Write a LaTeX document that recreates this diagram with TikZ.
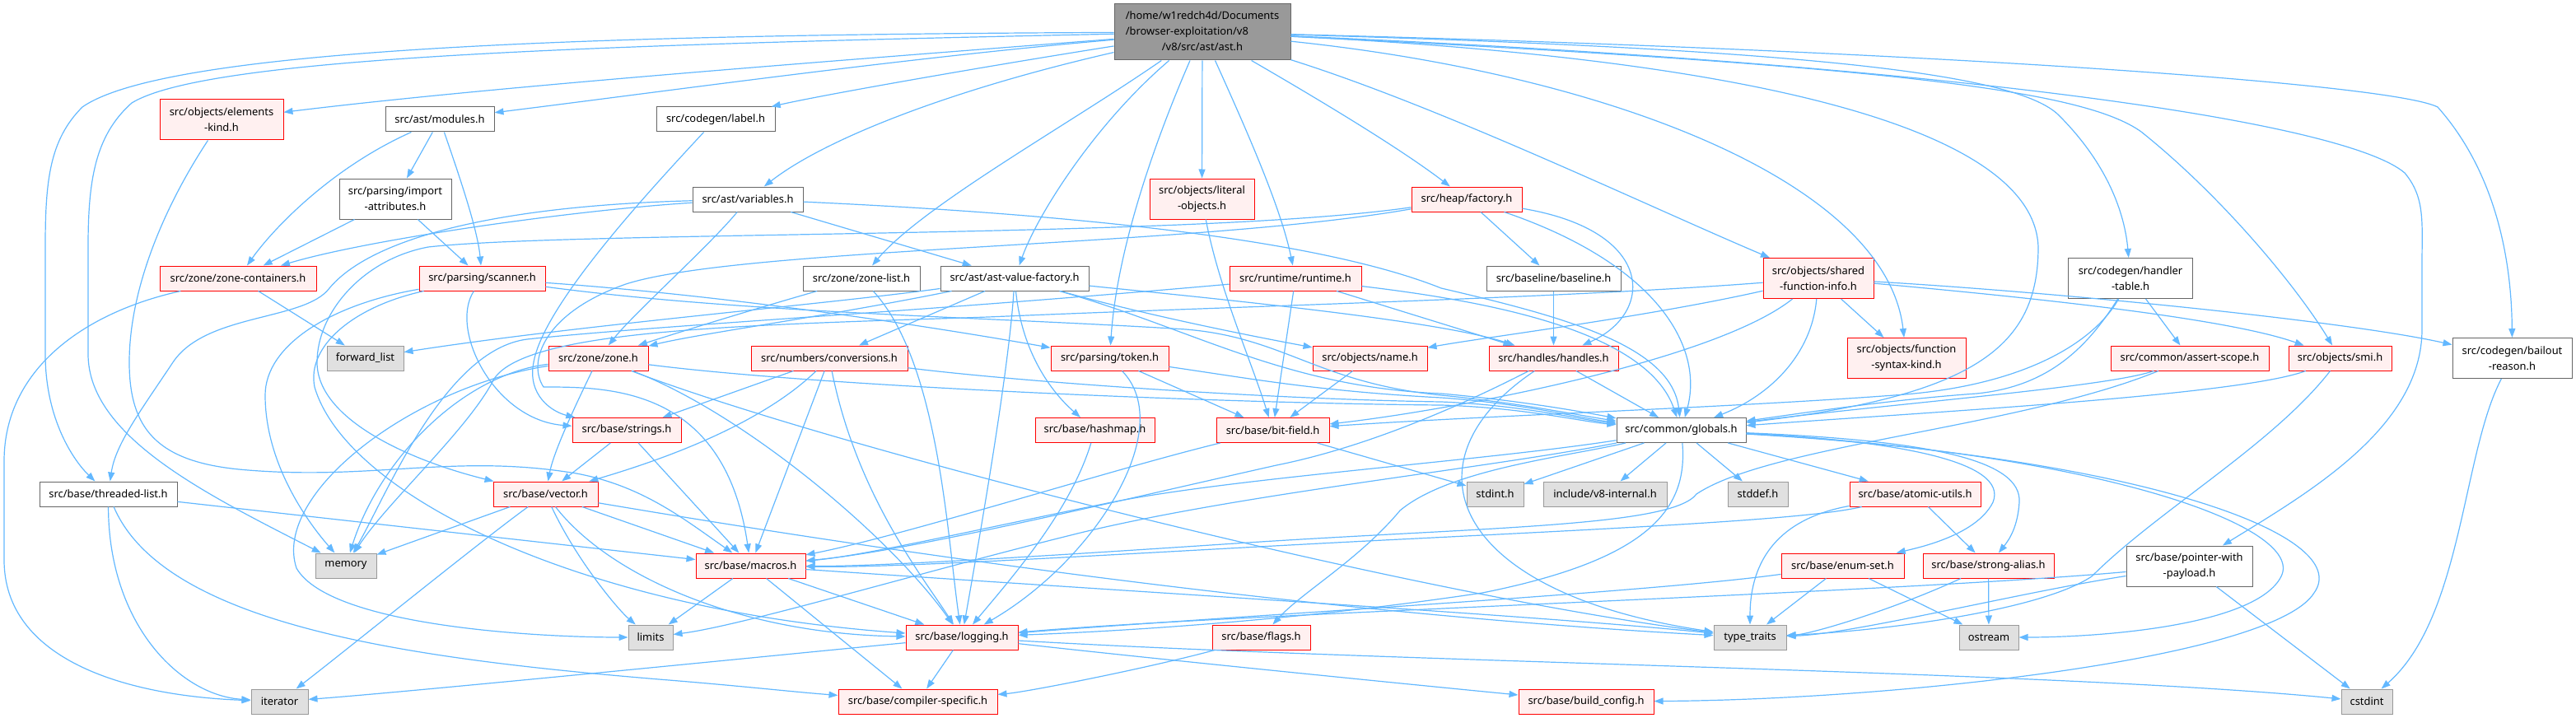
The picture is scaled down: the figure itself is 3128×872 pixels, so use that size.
\documentclass[tikz,border=0pt]{standalone}
\usepackage{fontspec}
\setmainfont{Noto Sans}
\usetikzlibrary{arrows.meta}
\definecolor{edgec}{HTML}{63B8FF}
\definecolor{redfill}{HTML}{FFF0F0}
\definecolor{redline}{HTML}{FF0000}
\definecolor{greyfill}{HTML}{E0E0E0}
\definecolor{greyline}{HTML}{999999}
\definecolor{darkline}{HTML}{666666}
\definecolor{rootfill}{HTML}{999999}
\begin{document}
\begin{tikzpicture}[x=0.5pt,y=-0.5pt,
  nbase/.style={rectangle, line width=0.5pt, inner xsep=3pt, inner ysep=1.5pt,
    font=\fontsize{6.45pt}{9.5pt}\selectfont, align=center, minimum height=15pt, text=black},
  rnode/.style={nbase, draw=redline, fill=redfill},
  wnode/.style={nbase, draw=darkline, fill=white},
  gnode/.style={nbase, draw=greyline, fill=greyfill},
  rootn/.style={nbase, draw=darkline, fill=rootfill},
  two/.style={minimum height=24.5pt},
  lnk/.style={draw=edgec, line width=0.6pt, -{Triangle[length=5.5pt,width=4pt]}}]
\useasboundingbox (0,0) rectangle (3128,872);
% nodes
\node[rootn, minimum width=107pt, minimum height=34pt] (root) at (1460,39)
  {\begin{tabular}{@{}l@{}}/home/w1redch4d/Documents\\/browser-exploitation/v8\\\multicolumn{1}{@{}c@{}}{/v8/src/ast/ast.h}\end{tabular}};
\node[rnode, two, minimum width=75pt] (elemkind) at (269,145.5) {src/objects/elements\\-kind.h};
\node[wnode, minimum width=66pt] (modules) at (534,145) {src/ast/modules.h};
\node[wnode, minimum width=72pt] (label) at (869,145) {src/codegen/label.h};
\node[wnode, two, minimum width=68pt] (importattr) at (480,241.5) {src/parsing/import\\-attributes.h};
\node[wnode, minimum width=67pt] (variables) at (908,242) {src/ast/variables.h};
\node[rnode, two, minimum width=63.5pt] (literal) at (1459.5,241.5) {src/objects/literal\\-objects.h};
\node[rnode, minimum width=67pt] (factory) at (1781,242) {src/heap/factory.h};
\node[rnode, minimum width=95pt] (zonecont) at (289,338) {src/zone/zone-containers.h};
\node[rnode, minimum width=76.5pt] (scanner) at (585.5,338) {src/parsing/scanner.h};
\node[wnode, minimum width=71pt] (zonelist) at (1046,338) {src/zone/zone-list.h};
\node[wnode, minimum width=90pt] (avf) at (1232,338) {src/ast/ast-value-factory.h};
\node[rnode, minimum width=80pt] (runtime) at (1573,338) {src/runtime/runtime.h};
\node[wnode, minimum width=81.5pt] (baseline) at (1886.5,338) {src/baseline/baseline.h};
\node[rnode, two, minimum width=67pt] (sfi) at (2208,338) {src/objects/shared\\-function-info.h};
\node[wnode, two, minimum width=75.5pt] (handlertable) at (2587,338) {src/codegen/handler\\-table.h};
\node[gnode, minimum width=46.5pt] (forwardlist) at (443.5,435) {forward\_list};
\node[rnode, minimum width=60.5pt] (zone) at (726.5,435) {src/zone/zone.h};
\node[rnode, minimum width=95pt] (conversions) at (1007,435) {src/numbers/conversions.h};
\node[rnode, minimum width=71.5pt] (token) at (1347.5,435) {src/parsing/token.h};
\node[rnode, minimum width=69.5pt] (name) at (1663.5,435) {src/objects/name.h};
\node[rnode, minimum width=78.5pt] (handles) at (1886.5,435) {src/handles/handles.h};
\node[rnode, two, minimum width=72pt] (fsk) at (2315,435) {src/objects/function\\-syntax-kind.h};
\node[rnode, minimum width=96pt] (assert) at (2659,435) {src/common/assert-scope.h};
\node[rnode, minimum width=62.5pt] (smi) at (2841.5,435) {src/objects/smi.h};
\node[wnode, two, minimum width=72.5pt] (bailout) at (3050.5,435) {src/codegen/bailout\\-reason.h};
\node[rnode, minimum width=66pt] (strings) at (761,522.5) {src/base/strings.h};
\node[rnode, minimum width=72.5pt] (hashmap) at (1329.5,522.5) {src/base/hashmap.h};
\node[rnode, minimum width=68.5pt] (bitfield) at (1545.5,522.5) {src/base/bit-field.h};
\node[wnode, minimum width=78.5pt] (globals) at (2041.5,522.5) {src/common/globals.h};
\node[wnode, minimum width=83.5pt] (threaded) at (131.5,600) {src/base/threaded-list.h};
\node[rnode, minimum width=63.5pt] (vector) at (662.5,600) {src/base/vector.h};
\node[gnode, minimum width=34.5pt] (stdint) at (1815.5,600) {stdint.h};
\node[gnode, minimum width=75pt] (v8internal) at (1949,600) {include/v8-internal.h};
\node[gnode, minimum width=36.5pt] (stddef) at (2134.5,600) {stddef.h};
\node[rnode, minimum width=79.5pt] (atomic) at (2325.5,600) {src/base/atomic-utils.h};
\node[gnode, minimum width=37pt] (memory) at (420,687) {memory};
\node[rnode, minimum width=66.5pt] (macros) at (911.5,687) {src/base/macros.h};
\node[rnode, minimum width=74.5pt] (enumset) at (2237.5,687) {src/base/enum-set.h};
\node[rnode, minimum width=79.5pt] (strongalias) at (2414.5,687) {src/base/strong-alias.h};
\node[wnode, two, minimum width=76.5pt] (pwp) at (2658.5,687.5) {src/base/pointer-with\\-payload.h};
\node[gnode, minimum width=27pt] (limits) at (790,774) {limits};
\node[rnode, minimum width=68pt] (logging) at (1168,774) {src/base/logging.h};
\node[rnode, minimum width=59.5pt] (flags) at (1531.5,774) {src/base/flags.h};
\node[gnode, minimum width=44pt] (typetraits) at (2125,774) {type\_traits};
\node[gnode, minimum width=36pt] (ostream) at (2415,774) {ostream};
\node[gnode, minimum width=34.5pt] (iterator) at (339.5,852) {iterator};
\node[rnode, minimum width=96.5pt] (compiler) at (1114.5,852) {src/base/compiler-specific.h};
\node[rnode, minimum width=82pt] (buildconfig) at (1926,852) {src/base/build\_config.h};
\node[gnode, minimum width=31pt] (cstdint) at (2874,852) {cstdint};
% root edges
\draw[lnk] (root) .. controls (700,42) and (200,60) .. (100,130) .. controls (60,170) and (55,220) .. (55,300) -- (55,430) .. controls (55,510) and (90,560) .. (threaded);
\draw[lnk] (root) .. controls (700,55) and (250,70) .. (160,125) .. controls (115,165) and (107,220) .. (107,300) -- (107,430) .. controls (107,530) and (250,600) .. (memory);
\draw[lnk] (root) .. controls (1000,75) and (600,105) .. (elemkind);
\draw[lnk] (root) .. controls (1100,70) and (800,112) .. (modules);
\draw[lnk] (root) .. controls (1200,80) and (1000,115) .. (label);
\draw[lnk] (root) .. controls (1150,110) and (1000,170) .. (variables);
\draw[lnk] (root) .. controls (1300,150) and (1120,250) .. (zonelist);
\draw[lnk] (root) .. controls (1330,150) and (1260,260) .. (avf);
\draw[lnk] (root) .. controls (1390,200) and (1355,320) .. (token);
\draw[lnk] (root) -- (literal);
\draw[lnk] (root) .. controls (1510,150) and (1555,250) .. (runtime);
\draw[lnk] (root) .. controls (1600,120) and (1700,180) .. (factory);
\draw[lnk] (root) .. controls (1750,130) and (2000,250) .. (sfi);
\draw[lnk] (root) .. controls (1950,90) and (2290,220) .. (fsk);
\draw[lnk] (root) .. controls (2200,60) and (2450,90) .. (2500,140) .. controls (2560,200) and (2580,260) .. (handlertable);
\draw[lnk] (root) .. controls (2300,80) and (2530,110) .. (2600,160) .. controls (2700,240) and (2790,350) .. (smi);
\draw[lnk] (root) .. controls (2400,80) and (2850,150) .. (2920,210) .. controls (2945,240) and (2941,270) .. (2941,320) -- (2941,400) .. controls (2941,520) and (2800,600) .. (pwp);
\draw[lnk] (root) .. controls (2300,60) and (2900,100) .. (2960,130) .. controls (3040,220) and (3050,340) .. (bailout);
\draw[lnk] (root) .. controls (2100,70) and (2470,150) .. (2475,300) .. controls (2475,420) and (2400,480) .. (globals);
% upper nodes
\draw[lnk] (elemkind) .. controls (200,250) and (157,350) .. (157,440) .. controls (157,520) and (190,560) .. (290,570) .. controls (450,585) and (550,550) .. (700,575) .. controls (780,590) and (830,630) .. (macros);
\draw[lnk] (modules) .. controls (400,205) and (330,280) .. (zonecont);
\draw[lnk] (modules) -- (importattr);
\draw[lnk] (modules) .. controls (560,220) and (580,280) .. (scanner);
\draw[lnk] (importattr) -- (zonecont);
\draw[lnk] (importattr) -- (scanner);
\draw[lnk] (label) .. controls (790,230) and (660,370) .. (648,440) .. controls (640,480) and (670,500) .. (strings);
\draw[lnk] (variables) .. controls (600,250) and (450,290) .. (400,350) .. controls (370,390) and (250,380) .. (210,440) .. controls (170,500) and (140,540) .. (threaded);
\draw[lnk] (variables) .. controls (700,255) and (450,290) .. (zonecont);
\draw[lnk] (variables) .. controls (860,300) and (770,380) .. (zone);
\draw[lnk] (variables) -- (avf);
\draw[lnk] (variables) .. controls (1300,260) and (1600,290) .. (1750,350) .. controls (1900,385) and (2030,420) .. (globals);
\draw[lnk] (zonelist) .. controls (900,380) and (820,405) .. (zone);
\draw[lnk] (zonelist) .. controls (1140,440) and (1150,650) .. (logging);
\draw[lnk] (avf) -- (conversions);
\draw[lnk] (avf) .. controls (1000,370) and (700,395) .. (forwardlist);
\draw[lnk] (avf) .. controls (1000,385) and (850,405) .. (zone);
\draw[lnk] (avf) .. controls (1225,450) and (1190,650) .. (logging);
\draw[lnk] (avf) .. controls (1240,420) and (1270,470) .. (hashmap);
\draw[lnk] (avf) .. controls (1450,400) and (1560,470) .. (1750,478) .. controls (1850,487) and (1920,500) .. (globals);
\draw[lnk] (avf) .. controls (1500,365) and (1750,390) .. (handles);
\draw[lnk] (avf) .. controls (1400,385) and (1530,410) .. (name);
\draw[lnk] (literal) .. controls (1480,350) and (1520,440) .. (bitfield);
\draw[lnk] (runtime) -- (bitfield);
\draw[lnk] (runtime) -- (handles);
\draw[lnk] (runtime) .. controls (1800,365) and (2000,400) .. (globals);
\draw[lnk] (runtime) .. controls (1100,380) and (800,395) .. (640,412) .. controls (540,425) and (470,600) .. (memory);
\draw[lnk] (factory) .. controls (2010,280) and (2010,380) .. (handles);
\draw[lnk] (factory) -- (baseline);
\draw[lnk] (factory) .. controls (2010,320) and (2070,420) .. (globals);
\draw[lnk] (factory) .. controls (1450,290) and (700,280) .. (520,300) .. controls (440,315) and (385,380) .. (385,440) .. controls (385,510) and (500,560) .. (vector);
\draw[lnk] (factory) .. controls (1450,300) and (900,300) .. (760,345) .. controls (660,380) and (640,440) .. (660,470) .. controls (740,470) and (880,470) .. (macros);
\draw[lnk] (baseline) -- (handles);
\draw[lnk] (sfi) -- (fsk);
\draw[lnk] (sfi) .. controls (2000,385) and (1800,410) .. (name);
\draw[lnk] (sfi) .. controls (2200,430) and (2150,480) .. (globals);
\draw[lnk] (sfi) .. controls (2080,440) and (1750,500) .. (bitfield);
\draw[lnk] (sfi) .. controls (2450,360) and (2700,385) .. (smi);
\draw[lnk] (sfi) .. controls (2500,355) and (2850,390) .. (bailout);
\draw[lnk] (sfi) .. controls (1900,362) and (1500,372) .. (1200,385) .. controls (900,395) and (640,400) .. (600,460) .. controls (570,520) and (470,610) .. (memory);
\draw[lnk] (handlertable) -- (assert);
\draw[lnk] (handlertable) .. controls (2530,430) and (2480,470) .. (2400,478) .. controls (2300,485) and (2200,500) .. (globals);
\draw[lnk] (handlertable) .. controls (2540,420) and (2450,470) .. (2300,480) .. controls (2100,495) and (1800,505) .. (bitfield);
% middle rows
\draw[lnk] (scanner) .. controls (400,370) and (322,420) .. (322,480) .. controls (322,560) and (370,630) .. (memory);
\draw[lnk] (scanner) .. controls (430,372) and (372,420) .. (382,470) .. controls (420,600) and (700,740) .. (logging);
\draw[lnk] (scanner) .. controls (545,400) and (600,510) .. (strings);
\draw[lnk] (scanner) .. controls (900,360) and (1150,400) .. (token);
\draw[lnk] (scanner) .. controls (900,380) and (1200,385) .. (1440,400) .. controls (1560,410) and (1600,465) .. (1750,480) .. controls (1850,490) and (1920,505) .. (globals);
\draw[lnk] (zonecont) -- (forwardlist);
\draw[lnk] (zonecont) .. controls (100,380) and (5,450) .. (5,560) -- (5,680) .. controls (5,800) and (150,845) .. (iterator);
\draw[lnk] (zone) .. controls (695,500) and (672,550) .. (vector);
\draw[lnk] (zone) .. controls (560,455) and (460,560) .. (memory);
\draw[lnk] (zone) .. controls (500,470) and (330,600) .. (360,690) .. controls (400,760) and (650,774) .. (limits);
\draw[lnk] (zone) .. controls (900,500) and (1080,650) .. (logging);
\draw[lnk] (zone) .. controls (1000,470) and (1500,490) .. (1750,492) .. controls (1850,495) and (1920,512) .. (globals);
\draw[lnk] (zone) .. controls (1000,540) and (1700,720) .. (typetraits);
\draw[lnk] (conversions) -- (strings);
\draw[lnk] (conversions) .. controls (940,500) and (850,545) .. (vector);
\draw[lnk] (conversions) -- (macros);
\draw[lnk] (conversions) .. controls (1040,600) and (1120,700) .. (logging);
\draw[lnk] (conversions) .. controls (1250,465) and (1550,485) .. (1750,488) .. controls (1850,492) and (1920,510) .. (globals);
\draw[lnk] (token) -- (bitfield);
\draw[lnk] (token) .. controls (1430,520) and (1330,680) .. (logging);
\draw[lnk] (token) .. controls (1520,460) and (1600,475) .. (1750,483) .. controls (1850,490) and (1920,508) .. (globals);
\draw[lnk] (name) -- (bitfield);
\draw[lnk] (handles) .. controls (1760,500) and (1650,545) .. (1550,565) .. controls (1350,610) and (1100,670) .. (macros);
\draw[lnk] (handles) .. controls (1700,560) and (1760,720) .. (typetraits);
\draw[lnk] (handles) -- (globals);
\draw[lnk] (assert) .. controls (2560,470) and (2300,490) .. (globals);
\draw[lnk] (assert) .. controls (2450,520) and (2150,540) .. (2060,600) .. controls (2030,640) and (1800,640) .. (1500,660) .. controls (1200,680) and (1050,688) .. (macros);
\draw[lnk] (smi) .. controls (2720,480) and (2350,500) .. (globals);
\draw[lnk] (smi) .. controls (2760,540) and (2620,620) .. (2540,700) .. controls (2480,740) and (2300,765) .. (typetraits);
\draw[lnk] (bailout) .. controls (2990,550) and (2990,750) .. (cstdint);
\draw[lnk] (strings) -- (macros);
\draw[lnk] (strings) -- (vector);
\draw[lnk] (hashmap) .. controls (1300,620) and (1230,700) .. (logging);
\draw[lnk] (bitfield) .. controls (1350,570) and (1100,650) .. (macros);
\draw[lnk] (bitfield) -- (stdint);
% globals
\draw[lnk] (globals) -- (stdint);
\draw[lnk] (globals) -- (v8internal);
\draw[lnk] (globals) -- (stddef);
\draw[lnk] (globals) -- (atomic);
\draw[lnk] (globals) .. controls (1800,560) and (1500,580) .. (1350,610) .. controls (1200,640) and (1050,675) .. (macros);
\draw[lnk] (globals) .. controls (1800,570) and (1500,600) .. (1300,650) .. controls (1100,700) and (900,760) .. (limits);
\draw[lnk] (globals) .. controls (2050,620) and (2000,680) .. (1800,720) .. controls (1600,750) and (1400,765) .. (logging);
\draw[lnk] (globals) .. controls (1900,555) and (1760,570) .. (1700,620) .. controls (1650,680) and (1580,720) .. (flags);
\draw[lnk] (globals) .. controls (2300,535) and (2440,560) .. (2420,610) .. controls (2400,650) and (2330,665) .. (enumset);
\draw[lnk] (globals) .. controls (2350,535) and (2455,560) .. (2452,610) .. controls (2450,640) and (2440,655) .. (strongalias);
\draw[lnk] (globals) .. controls (2550,550) and (2800,640) .. (2770,700) .. controls (2740,760) and (2550,774) .. (ostream);
\draw[lnk] (globals) .. controls (2600,555) and (2860,650) .. (2810,720) .. controls (2760,800) and (2300,850) .. (buildconfig);
\draw[lnk] (atomic) .. controls (2160,630) and (2125,680) .. (typetraits);
\draw[lnk] (atomic) -- (strongalias);
\draw[lnk] (atomic) .. controls (2200,630) and (2000,640) .. (1700,655) .. controls (1400,670) and (1100,690) .. (macros);
\draw[lnk] (threaded) .. controls (132,760) and (220,845) .. (iterator);
\draw[lnk] (threaded) .. controls (200,760) and (500,800) .. (800,825) .. controls (900,833) and (960,840) .. (compiler);
\draw[lnk] (threaded) -- (macros);
\draw[lnk] (vector) -- (memory);
\draw[lnk] (vector) .. controls (580,660) and (420,790) .. (iterator);
\draw[lnk] (vector) .. controls (700,680) and (750,740) .. (limits);
\draw[lnk] (vector) -- (macros);
\draw[lnk] (vector) .. controls (740,700) and (900,770) .. (logging);
\draw[lnk] (vector) .. controls (900,640) and (1500,740) .. (typetraits);
% lower rows
\draw[lnk] (enumset) -- (typetraits);
\draw[lnk] (enumset) -- (ostream);
\draw[lnk] (enumset) .. controls (2000,720) and (1500,748) .. (logging);
\draw[lnk] (strongalias) -- (ostream);
\draw[lnk] (strongalias) .. controls (2300,740) and (2200,770) .. (typetraits);
\draw[lnk] (pwp) .. controls (2450,720) and (2250,770) .. (typetraits);
\draw[lnk] (pwp) .. controls (2300,720) and (1500,745) .. (logging);
\draw[lnk] (pwp) -- (cstdint);
\draw[lnk] (macros) -- (limits);
\draw[lnk] (macros) -- (logging);
\draw[lnk] (macros) -- (compiler);
\draw[lnk] (macros) .. controls (1400,720) and (1900,750) .. (typetraits);
\draw[lnk] (logging) .. controls (900,800) and (500,840) .. (iterator);
\draw[lnk] (logging) -- (compiler);
\draw[lnk] (logging) .. controls (1400,800) and (1700,830) .. (buildconfig);
\draw[lnk] (logging) .. controls (1700,805) and (2500,815) .. (cstdint);
\draw[lnk] (flags) .. controls (1400,810) and (1250,840) .. (compiler);
\end{tikzpicture}
\end{document}
